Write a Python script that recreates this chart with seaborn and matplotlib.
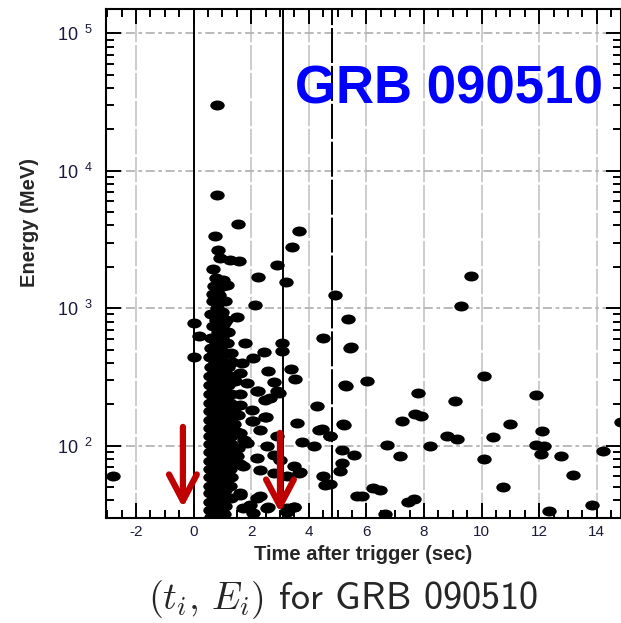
import numpy as np
import pandas as pd
import matplotlib
matplotlib.use("Agg")
import matplotlib.pyplot as plt
from matplotlib.path import Path
from matplotlib.transforms import Affine2D
from matplotlib.ticker import MultipleLocator, LogLocator, FixedLocator, NullFormatter
import seaborn as sns

# ---------------- data (time after trigger in s, energy in MeV) ----------------
sparse_t = [0.81, 0.83, 1.55, 0.75, 3.67, 3.42, 0.86, 0.92, 1.27, 1.58, 0.68, 2.89,
            2.22, 3.21, 1.03, 1.17, 0.82, 0.68, 4.90, 2.15, 0.98, 0.86, 1.04, 1.50,
            0.00, 5.36, 0.20, 4.49, 0.03, -2.79, 1.79, 2.43, 2.08, 3.07, 3.07, 2.60,
            3.39, 3.53, 2.78, 2.95, 2.20, 2.49, 4.29, 2.49, 2.08, 3.59, 3.76, 4.34,
            4.17, 3.70, 3.24, 3.47, 3.24, 1.62, 2.20, 1.73, 2.55, 2.08, 5.47, 5.27,
            4.46, 4.72, 5.21, 5.15, 5.56, 5.15, 5.10, 4.51, 4.57, 3.65, 5.68, 9.29,
            9.62, 5.44, 6.02, 5.29, 10.08, 7.78, 9.06, 11.88, 7.70, 7.88, 7.24, 5.19,
            10.97, 4.75, 8.81, 9.15, 10.39, 12.11, 6.72, 8.20, 11.88, 12.17, 7.18,
            10.08, 12.05, 12.75, 14.20, 13.18, 10.74, 6.23, 6.46, 5.85, 7.65, 7.44,
            6.66, 12.34, 13.85, 14.83, 4.75,
            1.68, 1.62, 1.85, 2.25, 2.90, 2.66, 1.62, 2.02, 2.52, 2.02, 2.31, 1.62,
            2.90, 1.85, 2.55, 1.50, 2.20, 2.78, 3.00, 1.73, 2.31, 2.78, 3.47, 1.62,
            2.31, 1.97, 2.60, 3.47, 3.24]
sparse_E = [30300, 6650, 4070, 3330, 3660, 2770, 2650, 2300, 2240, 2190, 1930, 2060,
            1680, 1540, 1600, 1480, 1350, 1260, 1240, 1053, 944, 822, 778, 869,
            778, 832, 630, 605, 445, 60.5, 557, 477, 434, 557, 490, 347,
            360, 305, 293, 242, 248, 216, 193, 161, 150, 146, 106, 131,
            99, 64, 60, 36, 35.3, 44, 41.7, 35.5, 35.5, 32.4, 521, 277,
            132, 117, 142, 93.5, 86, 75, 65, 60, 52, 63, 43, 1035,
            1720, 512, 298, 274, 322, 242, 210, 232, 171, 165, 151, 144,
            144, 117, 117, 112, 116, 127, 102, 100, 102, 100, 84,
            80, 87, 84, 92, 61.5, 50, 49, 48, 43, 41, 39,
            32, 33.7, 36.8, 148, 53,
            400, 337, 285, 248, 248, 222, 199, 182, 162, 150, 131, 124,
            117, 105, 99, 84, 81, 86, 79, 71, 67, 63, 71, 45,
            43, 37, 36, 36, 33]

cluster_t = [0.78, 1.02, 0.72, 0.88, 0.66, 1.08, 0.82, 0.95, 0.62, 0.78, 1.12,
             0.68, 0.98, 0.85, 1.20, 0.62, 1.00, 0.78, 1.15, 0.60, 0.92,
             0.72, 1.10, 1.30, 0.58, 0.90, 0.75, 1.05, 1.35, 0.60, 0.92, 1.20,
             0.72, 1.05, 0.57, 0.88, 1.25, 0.70, 1.02, 1.45, 0.58, 0.90, 1.20,
             0.72, 1.05, 0.57, 0.88, 1.30, 1.60, 0.70, 1.05, 0.58, 0.90, 1.25,
             0.75, 1.10, 1.45, 0.57, 0.92, 1.30, 0.70, 1.08, 1.55, 0.58, 0.88, 1.25,
             0.72, 1.05, 1.40, 0.57, 0.90, 1.22, 0.70, 1.05, 1.50, 0.58, 0.88, 1.30,
             0.72, 1.10, 1.75, 0.57, 0.92, 1.30, 0.70, 1.05, 1.55, 0.58, 0.88, 1.25,
             0.72, 1.10, 0.57, 0.92, 1.35, 0.70, 1.05, 1.60, 0.58, 0.90, 1.25,
             0.72, 1.08, 0.57, 0.88, 1.30, 0.70, 1.05, 0.58, 0.92, 1.25,
             0.72, 1.08, 0.57, 0.88, 0.70, 1.05, 1.30, 0.58, 0.92,
             0.72, 1.10, 0.57, 0.88, 0.70, 1.05, 0.60, 0.92]
cluster_E = [1650, 1450, 1450, 1250, 1120, 1120, 1000, 900, 900, 820, 820,
             740, 740, 670, 670, 610, 610, 560, 560, 515, 515,
             475, 475, 475, 440, 440, 405, 405, 405, 375, 375, 375,
             345, 345, 320, 320, 320, 298, 298, 298, 275, 275, 275,
             255, 255, 237, 237, 237, 237, 220, 220, 205, 205, 205,
             192, 192, 192, 178, 178, 178, 166, 166, 166, 155, 155, 155,
             145, 145, 145, 135, 135, 135, 126, 126, 126, 118, 118, 118,
             110, 110, 110, 103, 103, 103, 96, 96, 96, 90, 90, 90,
             84, 84, 78, 78, 78, 73, 73, 73, 68, 68, 68,
             63, 63, 59, 59, 59, 55, 55, 51, 51, 51,
             48, 48, 45, 45, 42, 42, 42, 39, 39,
             36.5, 36.5, 34, 34, 32, 32, 30.5, 30.5]

vlines_solid = [0.0, 3.1]
vline_dashed = 4.8
arrow_t = [-0.37, 3.0]
arrow_top = [137, 124]
arrow_tip = [35.5, 32.6]

x_ticks = [-2, 0, 2, 4, 6, 8, 10, 12, 14]
y_ticks = [1e2, 1e3, 1e4, 1e5]

df = pd.DataFrame({"t": sparse_t + cluster_t, "E": sparse_E + cluster_E})

# ---------------- figure ----------------
sns.set_style("ticks")
plt.rcParams["font.family"] = ["Liberation Sans", "DejaVu Sans"]
plt.rcParams["mathtext.fontset"] = "cm"

W, H = 621, 623
fig = plt.figure(figsize=(W / 100, H / 100), dpi=100)
ax = fig.add_axes([106 / W, 1 - 518 / H, (621 - 106) / W, (518 - 9) / H])

ax.set_yscale("log")
ax.set_xlim(-3.04, 14.84)
ax.set_ylim(29.8, 1.5e5)

# grid
for xv in x_ticks:
    ax.axvline(xv, color="#c8c8c8", lw=1.3, ls=(0, (14, 1.5)), zorder=0.5)
for yv in y_ticks:
    ax.axhline(yv, color="#b4b4b4", lw=1.3, ls=(0, (5, 2, 2, 2)), zorder=0.5)

for xv in vlines_solid:
    ax.axvline(xv, color="black", lw=1.4, zorder=1)
ax.axvline(vline_dashed, color="black", lw=1.4, ls=(0, (18, 1.5)), zorder=1)

ellipse = Path.unit_circle().transformed(Affine2D().scale(1.45, 1.0))
sns.scatterplot(data=df, x="t", y="E", ax=ax, color="black", marker=ellipse,
                s=108, linewidth=0, zorder=3, legend=False)

for t, top, tip in zip(arrow_t, arrow_top, arrow_tip):
    ax.annotate("", xy=(t, tip), xytext=(t, top),
                arrowprops=dict(arrowstyle="->,head_length=0.95,head_width=0.5",
                                lw=4.5, color="#c00000", mutation_scale=20,
                                shrinkA=0, shrinkB=0), zorder=5)

# ticks
ax.xaxis.set_major_locator(FixedLocator(x_ticks))
ax.xaxis.set_minor_locator(MultipleLocator(0.5))
ax.yaxis.set_major_locator(FixedLocator(y_ticks))
ax.yaxis.set_minor_locator(LogLocator(base=10, subs=np.arange(2, 10), numticks=20))
ax.yaxis.set_minor_formatter(NullFormatter())
ax.set_xticklabels([str(v) for v in x_ticks])
ax.set_yticklabels([r"$\mathregular{10^{\ \ %d}}$" % int(np.log10(v)) for v in y_ticks])
ax.tick_params(which="both", direction="in", top=True, right=True, width=1.4,
               colors="black")
ax.tick_params(which="major", length=11)
ax.tick_params(which="minor", length=6)
ax.tick_params(axis="x", which="major", labelsize=11, pad=5, labelcolor="#1a1a3a")
ax.tick_params(axis="y", which="major", labelsize=13, pad=9, labelcolor="#1a1a3a")
for sp in ax.spines.values():
    sp.set_linewidth(1.5)
    sp.set_color("black")

ax.set_xlabel("Time after trigger (sec)", fontsize=14.5, fontweight="bold", labelpad=4.5)
ax.set_ylabel("Energy (MeV)", fontsize=14.5, fontweight="bold")
ax.yaxis.set_label_coords(-0.13, 0.58)

fig.text(603 / W, 1 - 103 / H, "GRB 090510", ha="right", va="baseline",
         fontsize=38, fontweight="bold", color="#0000ff")
fig.text(343 / W, 1 - 609 / H, r"$(t_i,\,E_i)$ for GRB 090510",
         ha="center", va="baseline", fontsize=27.5, family="cmss10")

fig.savefig("out.png", dpi=100)
